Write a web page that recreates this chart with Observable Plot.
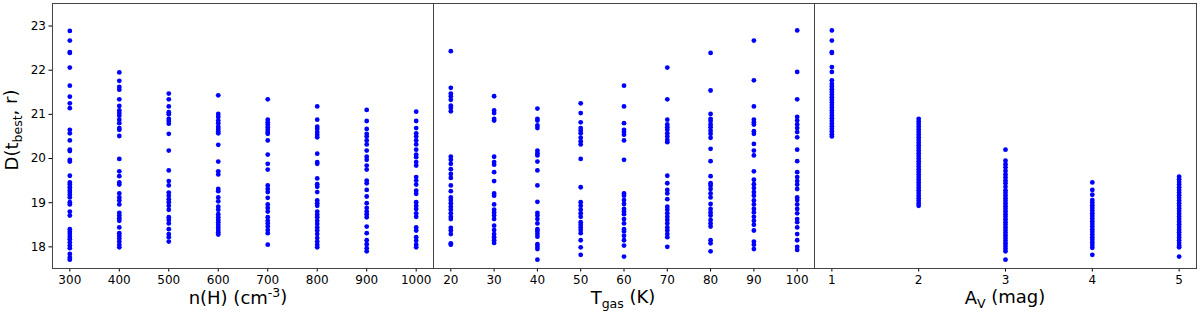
<!DOCTYPE html>
<html>
<head>
<meta charset="utf-8">
<script src="https://cdn.jsdelivr.net/npm/d3@7"></script>
<script src="https://cdn.jsdelivr.net/npm/@observablehq/plot@0.6"></script>
<style>
  html, body { margin: 0; padding: 0; background: #fff; }
  #chart { display: flex; width: 1200px; height: 313px; font-family: "DejaVu Sans", sans-serif; }
  #chart svg { overflow: visible; }
</style>
</head>
<body>
<div id="chart"></div>
<script>
// ---- Data ----
const yTicks = [18, 19, 20, 21, 22, 23];

const nhCategories = [300, 400, 500, 600, 700, 800, 900, 1000];
const nhValues = [
  [22.89, 22.67, 22.41, 22.39, 22.06, 21.65, 21.40, 21.25, 21.14, 20.65, 20.57, 20.41, 20.20, 20.17, 19.97, 19.93, 19.61, 19.46, 19.41, 19.35, 19.29, 19.24, 19.18, 19.12, 19.01, 18.96, 18.80, 18.71, 18.40, 18.34, 18.29, 18.23, 18.17, 18.10, 18.03, 17.97, 17.84, 17.76, 17.71],
  [21.95, 21.76, 21.62, 21.56, 21.34, 21.19, 21.09, 21.03, 20.97, 20.88, 20.80, 20.69, 20.65, 20.51, 19.99, 19.71, 19.60, 19.46, 19.41, 19.21, 19.12, 19.05, 18.96, 18.77, 18.71, 18.65, 18.59, 18.44, 18.31, 18.25, 18.19, 18.12, 18.05, 17.99],
  [21.47, 21.34, 21.18, 21.05, 21.00, 20.90, 20.85, 20.79, 20.56, 20.18, 19.73, 19.49, 19.39, 19.23, 19.16, 19.08, 19.01, 18.93, 18.84, 18.67, 18.61, 18.53, 18.40, 18.29, 18.22, 18.12],
  [21.43, 21.01, 20.94, 20.86, 20.80, 20.72, 20.67, 20.62, 20.57, 20.31, 19.93, 19.71, 19.64, 19.31, 19.26, 19.12, 19.03, 18.91, 18.84, 18.74, 18.67, 18.61, 18.56, 18.50, 18.44, 18.38, 18.33, 18.28],
  [21.34, 20.88, 20.82, 20.77, 20.71, 20.65, 20.60, 20.56, 20.41, 20.09, 19.88, 19.75, 19.39, 19.31, 19.24, 19.11, 18.96, 18.88, 18.80, 18.67, 18.59, 18.53, 18.46, 18.38, 18.31, 18.05],
  [21.18, 20.88, 20.72, 20.67, 20.60, 20.54, 20.48, 20.11, 19.92, 19.88, 19.55, 19.42, 19.36, 19.24, 19.05, 18.99, 18.93, 18.80, 18.73, 18.67, 18.59, 18.52, 18.44, 18.37, 18.29, 18.20, 18.12, 18.05, 17.99],
  [21.10, 20.85, 20.67, 20.56, 20.50, 20.41, 20.32, 20.18, 20.04, 19.97, 19.84, 19.75, 19.50, 19.44, 19.29, 19.14, 18.99, 18.88, 18.80, 18.74, 18.67, 18.46, 18.31, 18.15, 18.06, 17.97, 17.90],
  [21.06, 20.85, 20.69, 20.57, 20.50, 20.41, 20.32, 20.20, 20.09, 20.03, 19.92, 19.84, 19.58, 19.50, 19.41, 19.27, 19.20, 19.01, 18.93, 18.86, 18.76, 18.68, 18.44, 18.37, 18.22, 18.14, 18.05, 17.99]
];

const tgasCategories = [20, 30, 40, 50, 60, 70, 80, 90, 100];
const tgasValues = [
  [22.43, 21.60, 21.47, 21.41, 21.33, 21.20, 21.15, 21.07, 20.04, 19.97, 19.88, 19.76, 19.65, 19.56, 19.39, 19.26, 19.12, 19.06, 18.99, 18.91, 18.84, 18.76, 18.68, 18.63, 18.43, 18.37, 18.29, 18.08, 18.05],
  [21.41, 21.09, 21.03, 20.90, 20.86, 20.04, 19.92, 19.86, 19.69, 19.49, 19.21, 19.16, 18.96, 18.84, 18.78, 18.71, 18.63, 18.48, 18.38, 18.29, 18.22, 18.15, 18.09],
  [21.13, 20.90, 20.86, 20.75, 20.69, 20.18, 20.12, 20.07, 19.93, 19.73, 19.39, 19.02, 18.77, 18.71, 18.63, 18.53, 18.40, 18.35, 18.29, 18.23, 18.06, 18.00, 17.95, 17.71],
  [21.25, 21.03, 20.82, 20.69, 20.63, 20.57, 20.47, 20.39, 20.32, 19.99, 19.35, 19.01, 18.93, 18.84, 18.76, 18.68, 18.56, 18.50, 18.44, 18.38, 18.31, 18.15, 17.99, 17.82],
  [21.65, 21.18, 20.80, 20.65, 20.60, 20.54, 20.41, 19.97, 19.21, 19.16, 19.06, 18.97, 18.86, 18.80, 18.74, 18.63, 18.53, 18.40, 18.35, 18.25, 18.15, 18.03, 17.78],
  [22.06, 21.34, 20.88, 20.77, 20.71, 20.65, 20.57, 20.50, 20.42, 20.37, 19.61, 19.44, 19.29, 19.21, 19.08, 18.91, 18.84, 18.76, 18.68, 18.61, 18.53, 18.44, 18.37, 18.29, 18.22, 18.00],
  [22.39, 21.54, 21.01, 20.90, 20.85, 20.77, 20.71, 20.63, 20.56, 20.47, 20.22, 19.94, 19.60, 19.44, 19.39, 19.31, 19.21, 19.12, 18.97, 18.86, 18.78, 18.71, 18.61, 18.53, 18.46, 18.15, 18.08, 17.90],
  [22.67, 21.77, 21.18, 20.88, 20.82, 20.77, 20.62, 20.56, 20.33, 20.18, 20.07, 19.71, 19.52, 19.42, 19.33, 19.24, 19.16, 19.05, 18.96, 18.86, 18.78, 18.68, 18.59, 18.50, 18.37, 18.12, 18.05, 17.95],
  [22.90, 21.96, 21.34, 20.94, 20.86, 20.77, 20.69, 20.60, 20.48, 20.20, 19.94, 19.69, 19.58, 19.49, 19.41, 19.31, 19.12, 19.06, 18.96, 18.86, 18.76, 18.63, 18.56, 18.44, 18.29, 18.15, 18.00, 17.93]
];

const avCategories = [1, 2, 3, 4, 5];
const avValues = [
  [22.90, 22.67, 22.41, 22.39, 22.07, 21.96, 21.77, 21.69, 21.63, 21.57, 21.51, 21.45, 21.39, 21.33, 21.27, 21.21, 21.15, 21.09, 21.03, 20.97, 20.91, 20.85, 20.79, 20.73, 20.67, 20.61, 20.55, 20.50],
  [20.90, 20.84, 20.78, 20.72, 20.66, 20.60, 20.54, 20.48, 20.42, 20.36, 20.30, 20.24, 20.18, 20.12, 20.06, 20.00, 19.94, 19.88, 19.82, 19.76, 19.70, 19.64, 19.58, 19.52, 19.46, 19.40, 19.34, 19.28, 19.22, 19.16, 19.10, 19.04, 18.98, 18.93],
  [20.20, 19.95, 19.87, 19.80, 19.72, 19.64, 19.57, 19.50, 19.44, 19.36, 19.28, 19.22, 19.16, 19.10, 19.04, 18.98, 18.92, 18.86, 18.80, 18.74, 18.68, 18.62, 18.56, 18.50, 18.44, 18.38, 18.32, 18.26, 18.20, 18.14, 18.08, 18.02, 17.96, 17.90, 17.71],
  [19.46, 19.29, 19.18, 19.06, 19.00, 18.94, 18.88, 18.82, 18.76, 18.70, 18.64, 18.58, 18.52, 18.46, 18.40, 18.34, 18.28, 18.22, 18.16, 18.10, 18.04, 17.98, 17.82],
  [19.59, 19.53, 19.47, 19.41, 19.35, 19.29, 19.23, 19.17, 19.11, 19.05, 18.99, 18.93, 18.87, 18.81, 18.75, 18.69, 18.63, 18.57, 18.51, 18.45, 18.39, 18.33, 18.27, 18.21, 18.15, 18.09, 18.03, 17.99, 17.78]
];

// ---- Build ----
function toRows(cats, vals) {
  const rows = [];
  cats.forEach((c, i) => vals[i].forEach(v => rows.push({x: c, y: v})));
  return rows;
}

const H = 313, MT = 3, MB = 45;
const yDomain = [17.51, 23.51];
const font = "'DejaVu Sans', sans-serif";
const frameColor = "#444";

function panel({width, marginLeft, marginRight, xDomain, xTicks, rows, showY}) {
  const marks = [
    Plot.dot(rows, {x: "x", y: "y", r: 2.4, fill: "#0000ff", stroke: "none"}),
    Plot.axisX({ticks: xTicks, tickSize: 3.5, tickPadding: 3, label: null, tickFormat: d => String(d)}),
    Plot.frame({stroke: frameColor, strokeWidth: 1})
  ];
  if (showY) marks.push(Plot.axisY({ticks: yTicks, tickSize: 3.5, tickPadding: 3, label: null, tickFormat: d => String(d)}));
  return Plot.plot({
    width, height: H,
    marginLeft, marginRight, marginTop: MT, marginBottom: MB,
    style: {fontSize: "12px", fontFamily: font, color: "#000", background: "transparent", overflow: "visible"},
    x: {domain: xDomain, ticks: xTicks, label: null},
    y: {domain: yDomain, label: null, axis: null},
    marks
  });
}

function addXLabel(svg, cx, parts) {
  const t = d3.select(svg).append("text")
    .attr("x", cx).attr("y", 304)
    .attr("text-anchor", "middle")
    .style("font-family", font).style("font-size", "18px").attr("fill", "#000");
  parts.forEach(p => {
    const s = t.append("tspan").text(p.text);
    if (p.sub) s.attr("dy", "0.3em").style("font-size", "12.5px");
    else if (p.sup) s.attr("dy", "-0.55em").style("font-size", "12.5px");
    else if (p.reset) s.attr("dy", p.reset);
  });
}

const container = document.getElementById("chart");

const p1 = panel({width: 433, marginLeft: 52, marginRight: 0, xDomain: [265, 1035], xTicks: nhCategories, rows: toRows(nhCategories, nhValues), showY: true});
const p2 = panel({width: 381, marginLeft: 0, marginRight: 0, xDomain: [16, 104], xTicks: tgasCategories, rows: toRows(tgasCategories, tgasValues), showY: false});
const p3 = panel({width: 386, marginLeft: 0, marginRight: 4, xDomain: [0.8, 5.2], xTicks: avCategories, rows: toRows(avCategories, avValues), showY: false});

container.append(p1, p2, p3);

addXLabel(p1, 238, [{text: "n(H) (cm"}, {text: "-3", sup: true}, {text: ")", reset: "0.35em"}]);
addXLabel(p2, 190, [{text: "T"}, {text: "gas", sub: true}, {text: " (K)", reset: "-0.24em"}]);
addXLabel(p3, 191, [{text: "A"}, {text: "V", sub: true}, {text: " (mag)", reset: "-0.24em"}]);

// y label
const yl = d3.select(p1).append("text")
  .attr("transform", "translate(18,130) rotate(-90)")
  .attr("text-anchor", "middle")
  .style("font-family", font).style("font-size", "18px").attr("fill", "#000");
yl.append("tspan").text("D(t");
yl.append("tspan").text("best").attr("dy", "0.3em").style("font-size", "12.5px");
yl.append("tspan").text(", r)").attr("dy", "-0.24em");
</script>
</body>
</html>
